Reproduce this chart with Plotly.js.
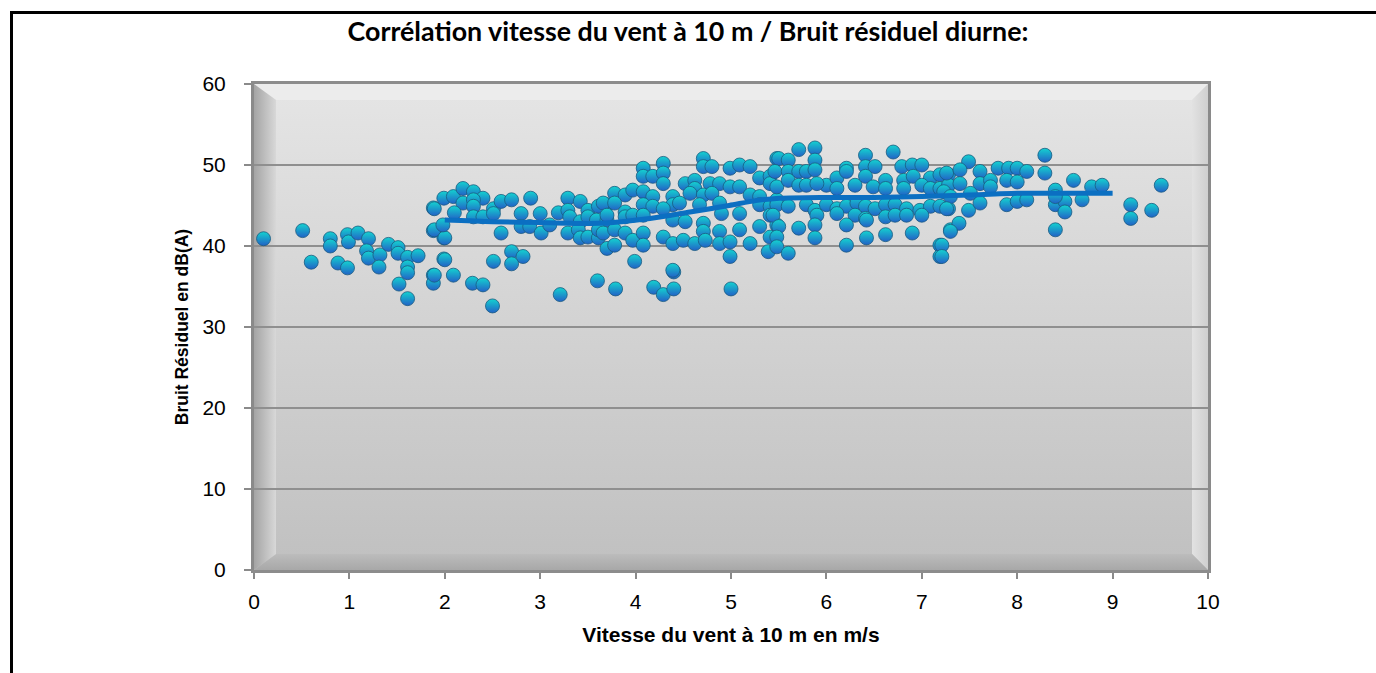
<!DOCTYPE html>
<html>
<head>
<meta charset="utf-8">
<script src="https://cdn.plot.ly/plotly-3.0.1.min.js"></script>
<style>
html,body{margin:0;padding:0;background:#fff;overflow:hidden;}
#chart{width:1376px;height:673px;}
</style>
</head>
<body>
<div id="chart"></div>
<script>
// Wind speed at 10 m (m/s) for each measured point
const windSpeed = [
0.10,0.51,0.60,0.80,0.80,0.88,0.98,0.99,0.98,1.09,1.20,1.18,1.20,1.32,1.31,1.41,1.51,1.51,1.61,1.72,1.61,1.61,1.52,1.61,
1.88,1.99,1.88,1.99,1.99,1.88,1.88,
1.89,2.09,2.19,2.30,2.40,2.19,2.30,2.30,2.51,2.59,2.70,2.90,3.29,3.42,3.50,3.61,3.70,
2.10,2.30,2.40,2.51,2.80,3.00,3.19,3.29,3.31,3.42,3.50,3.59,3.70,
1.89,2.00,1.98,2.59,2.80,2.89,3.01,3.10,3.29,3.40,3.42,3.50,3.61,3.61,3.70,
2.00,2.51,2.70,2.82,2.70,
1.89,2.09,2.29,2.40,2.50,3.21,3.60,3.79,4.19,4.29,4.40,4.40,5.00,
4.08,4.29,4.08,4.18,4.29,4.29,4.71,4.71,4.80,4.99,5.09,5.20,5.48,5.30,5.41,5.41,
4.52,4.62,4.62,4.78,4.88,4.99,5.09,3.78,3.89,3.97,4.08,4.18,4.39,4.39,4.57,4.71,4.80,
3.66,3.78,3.89,4.08,4.18,4.29,4.46,4.67,4.88,4.90,5.09,5.20,5.30,5.30,5.41,5.41,5.48,
3.70,3.89,3.97,4.08,4.39,4.52,4.71,4.71,4.88,5.09,5.30,5.41,5.48,
3.66,3.78,3.78,3.89,3.97,4.08,4.08,4.29,4.39,4.50,4.62,4.73,4.88,4.99,5.20,5.39,4.99,3.99,4.39,
5.71,5.88,5.50,5.60,5.88,6.21,6.41,6.41,6.51,6.70,6.79,6.90,7.00,
5.46,5.60,5.71,5.79,5.88,6.00,6.11,6.21,6.41,6.62,6.81,6.91,7.09,7.19,7.28,
5.48,5.60,5.71,5.79,5.90,6.11,6.30,6.49,6.62,6.81,7.00,7.09,7.19,7.28,
5.48,5.60,5.79,5.88,6.00,6.11,6.21,6.32,6.41,6.51,6.62,6.72,6.84,6.98,7.09,7.19,7.28,
5.44,5.90,6.11,6.30,6.41,6.62,6.72,6.84,7.00,
5.50,5.71,5.88,6.21,6.42,5.48,5.88,6.42,6.62,6.90,7.30,5.48,5.60,6.21,7.19,7.19,
7.49,8.29,7.26,7.40,7.61,7.80,7.91,8.00,8.10,8.29,8.59,7.40,7.61,7.72,7.89,8.00,8.78,8.89,8.40,
7.23,7.30,7.51,7.72,7.26,7.49,7.61,7.89,8.00,8.10,8.40,8.50,8.50,8.68,8.40,7.39,7.30,8.40,7.21,7.21,
9.51,9.19,9.19,9.41
];
// Residual noise in dB(A) for each measured point (same order)
const residualNoise = [
40.9,41.9,38.0,40.9,40.0,37.9,41.4,40.5,37.3,41.6,40.9,39.4,38.5,38.9,37.4,40.2,39.8,39.1,38.6,38.8,37.4,36.7,35.3,33.5,
44.7,45.9,41.9,41.0,38.4,36.4,35.4,
44.6,46.1,47.1,46.7,45.9,45.3,45.7,44.9,44.6,45.5,45.7,45.9,45.9,45.5,44.4,44.9,45.1,
44.1,43.6,43.6,44.0,44.0,44.0,44.1,44.4,43.6,43.0,43.6,43.2,43.2,
42.0,41.0,42.6,41.6,42.4,42.4,41.6,42.6,41.6,42.0,41.0,41.1,41.0,42.0,39.7,
38.3,38.1,39.3,38.7,37.8,
36.4,36.4,35.4,35.2,32.6,34.0,35.7,34.7,34.9,34.0,34.7,36.8,34.7,
49.6,50.2,48.6,48.6,49.0,47.7,50.8,49.8,49.8,49.6,50.0,49.8,50.8,48.4,48.6,47.7,
47.7,48.1,47.1,47.7,47.7,47.3,47.3,46.5,46.3,46.9,46.7,46.1,46.1,45.1,46.5,46.3,46.5,
45.3,45.3,44.2,45.1,44.9,44.6,45.3,45.1,45.3,44.0,44.0,46.3,46.1,45.1,44.9,43.8,45.7,
43.8,43.6,43.8,43.8,43.2,43.0,42.8,41.8,41.8,42.0,42.4,41.1,42.6,
41.6,42.0,40.1,41.6,40.7,41.6,40.1,41.1,40.3,40.7,40.3,40.7,40.3,40.5,40.3,39.3,38.7,38.1,37.0,
51.9,52.1,50.8,50.6,50.6,49.6,51.2,49.8,49.8,51.6,49.8,50.0,50.0,
49.2,49.2,49.2,49.2,49.4,47.5,48.4,49.2,48.6,48.1,48.1,48.6,48.4,48.8,48.8,
47.3,48.1,47.5,47.5,47.7,47.1,47.5,47.3,47.1,47.1,47.5,47.1,47.1,47.5,
45.1,44.9,45.1,44.4,45.1,44.6,44.9,45.3,44.9,44.6,45.1,45.1,44.6,44.4,44.9,44.9,44.6,
43.8,43.8,44.0,43.8,43.4,43.6,43.8,43.8,43.8,
42.4,42.2,42.6,42.6,43.2,41.1,41.0,41.0,41.4,41.6,42.0,39.9,39.1,40.1,40.1,38.7,
50.4,51.2,49.0,49.4,49.2,49.6,49.6,49.6,49.2,49.0,48.1,47.7,47.7,48.1,48.1,47.9,47.3,47.5,46.9,
46.7,46.1,46.5,47.3,44.6,44.4,45.3,45.1,45.5,45.7,45.1,45.5,44.2,45.7,46.1,42.8,41.8,42.0,40.1,38.7,
47.5,45.1,43.4,44.4
];
// Smoothed trend line
const trendWind  = [2.0, 2.5, 3.0, 3.63, 4.15, 4.57, 4.98, 5.26, 5.51, 6.0, 6.5, 7.0, 7.5, 8.0, 8.5, 9.0];
const trendNoise = [43.2, 43.0, 42.9, 42.8, 43.4, 44.2, 45.0, 45.6, 45.9, 46.0, 46.0, 46.1, 46.3, 46.5, 46.5, 46.5];

const xTicks = [0,1,2,3,4,5,6,7,8,9,10];
const yTicks = [0,10,20,30,40,50,60];

const titleText = "Corrélation vitesse du vent à 10 m / Bruit résiduel diurne:";
const xTitle = "Vitesse du vent à 10 m en m/s";
const yTitle = "Bruit Résiduel en dB(A)";

const W = 954, H = 486;
const svg = `<svg xmlns='http://www.w3.org/2000/svg' width='${W}' height='${H}' viewBox='0 0 ${W} ${H}' preserveAspectRatio='none'>
<defs>
<linearGradient id='g' x1='0' y1='0' x2='0' y2='1'><stop offset='0' stop-color='#e5e5e5'/><stop offset='1' stop-color='#c0c0c0'/></linearGradient>
<linearGradient id='l' x1='0' y1='0' x2='1' y2='0'><stop offset='0' stop-color='#a4a4a4'/><stop offset='1' stop-color='#d8d8d8'/></linearGradient>
<linearGradient id='b' x1='0' y1='1' x2='0' y2='0'><stop offset='0' stop-color='#a8a8a8'/><stop offset='1' stop-color='#bcbcbc'/></linearGradient>
<linearGradient id='r' x1='1' y1='0' x2='0' y2='0'><stop offset='0' stop-color='#cfcfcf'/><stop offset='1' stop-color='#e2e2e2'/></linearGradient>
</defs>
<rect width='${W}' height='${H}' fill='url(#g)'/>
<polygon points='0,0 ${W},0 ${W-16},16 22,16' fill='#ececec'/>
<polygon points='${W},0 ${W},${H} ${W-16},${H-16} ${W-16},16' fill='url(#r)'/>
<polygon points='0,${H} 22,${H-16} ${W-16},${H-16} ${W},${H}' fill='url(#b)'/>
<polygon points='0,0 22,16 22,${H-16} 0,${H}' fill='url(#l)'/>
</svg>`;
const bgSrc = 'data:image/svg+xml;charset=utf-8,' + encodeURIComponent(svg);

const tickFont = {family: '"Liberation Sans Narrow", "Arial Narrow", "Liberation Sans", Arial, sans-serif', size: 21, color: '#000'};

const traces = [
  {
    type: 'scatter', mode: 'markers',
    x: windSpeed, y: residualNoise,
    marker: {
      symbol: 'circle', size: 14,
      color: '#14d2d0',
      gradient: {type: 'vertical', color: '#2262c6'},
      line: {width: 0.8, color: '#195a80'}
    },
    hoverinfo: 'x+y', showlegend: false
  },
  {
    type: 'scatter', mode: 'lines',
    x: trendWind, y: trendNoise,
    line: {color: '#0b6fc2', width: 5, shape: 'spline', smoothing: 0.8},
    hoverinfo: 'skip', showlegend: false
  }
];

const layout = {
  width: 1376, height: 673,
  margin: {l: 254, r: 168, t: 84, b: 103},
  paper_bgcolor: '#ffffff',
  plot_bgcolor: 'rgba(0,0,0,0)',
  title: {
    text: '<b>' + titleText + '</b>',
    font: {family: 'Lato, "Open Sans", sans-serif', size: 26.8, color: '#000'},
    xref: 'container', x: 0.5, xanchor: 'center',
    yref: 'container', y: 1 - 32/673, yanchor: 'middle'
  },
  xaxis: {
    range: [0, 10], tickvals: xTicks, ticktext: xTicks.map(String),
    ticks: 'outside', ticklen: 6, tickwidth: 2, tickcolor: '#8a8a8a',
    ticklabelstandoff: 5,
    showline: true, linecolor: '#8c8c8c', linewidth: 3, mirror: true,
    showgrid: false, zeroline: false,
    tickfont: tickFont,
    title: {text: '<b>' + xTitle + '</b>', font: {family: '"Liberation Sans", Arial, sans-serif', size: 21, color: '#000'}, standoff: 16}
  },
  yaxis: {
    range: [0, 60], tickvals: yTicks, ticktext: yTicks.map(String),
    ticks: 'outside', ticklen: 7, tickwidth: 2, tickcolor: '#8a8a8a',
    ticklabelstandoff: 14,
    showline: true, linecolor: '#8a8a8a', linewidth: 3, mirror: true,
    showgrid: true, gridcolor: '#8f8f8f', gridwidth: 2, zeroline: false,
    tickfont: tickFont,
    title: {text: '<b>' + yTitle + '</b>', font: {family: '"Liberation Sans", Arial, sans-serif', size: 17.5, color: '#000'}, standoff: 10}
  },
  images: [{
    source: bgSrc, xref: 'paper', yref: 'paper', x: 0, y: 1,
    sizex: 1, sizey: 1, xanchor: 'left', yanchor: 'top',
    sizing: 'stretch', layer: 'below'
  }],
  shapes: [{
    type: 'rect', xref: 'paper', yref: 'paper',
    x0: (11.5-254)/954, x1: (1420-254)/954,
    y0: (570-700)/486, y1: (570-12.5)/486,
    line: {color: '#000', width: 3}, fillcolor: 'rgba(0,0,0,0)', layer: 'above'
  }]
};

Plotly.newPlot('chart', traces, layout, {displayModeBar: false, staticPlot: true});
</script>
</body>
</html>
